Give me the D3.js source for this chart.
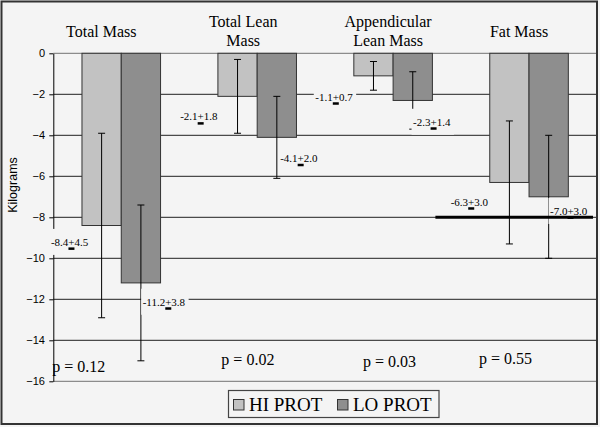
<!DOCTYPE html>
<html>
<head>
<meta charset="utf-8">
<script src="https://cdn.jsdelivr.net/npm/d3@7"></script>
<style>
  body { margin: 0; background: #f4f4f4; }
  svg { display: block; }
</style>
</head>
<body>
<div id="chart"></div>
<script>
// chart values
let categories = ["Total Mass", "Total Lean Mass", "Appendicular Lean Mass", "Fat Mass"];
let titleLines = [["Total Mass"], ["Total Lean", "Mass"], ["Appendicular", "Lean Mass"], ["Fat Mass"]];
let series = ["HI PROT", "LO PROT"];
let hiMeans = [-8.4, -2.1, -1.1, -6.3];
let hiSD = [4.5, 1.8, 0.7, 3.0];
let loMeans = [-11.2, -4.1, -2.3, -7.0];
let loSD = [3.8, 2.0, 1.4, 3.0];
let pValues = ["p = 0.12", "p = 0.02", "p = 0.03", "p = 0.55"];
let yTicks = [0, -2, -4, -6, -8, -10, -12, -14, -16];
let markerLine = -8;

// layout (pixels / offsets, not data)
let svgWidth = 600;
let svgHeight = 427;
let plot = { left: 53.3, right: 597, top: 53.3, bottom: 381.3 };
let titleDx = [-20, -14, -5, -10];
let hiLabelDx = [-32, -38.7, -39.5, -40];
let hiLabelY = [-9.2, -3.09, -2.12, -7.24];
let loLabelDx = [23, 22, 19, 20];
let loLabelY = [-12.12, -5.12, -3.34, -7.69];
let pDx = [-42.5, -9.3, -3.5, -23.6];
let pY = [-15.53, -15.2, -15.29, -15.16];
let colors = { "HI PROT": "#c2c2c2", "LO PROT": "#8e8e8e" };
let serif = "'Liberation Serif', 'Times New Roman', serif";
let sans = "'Liberation Sans', Arial, sans-serif";

// build rows
let rows = [];
categories.forEach(function(c, i) {
    rows.push({ cat: c, s: "HI PROT", mean: hiMeans[i], sd: hiSD[i], dx: hiLabelDx[i], ly: hiLabelY[i] });
    rows.push({ cat: c, s: "LO PROT", mean: loMeans[i], sd: loSD[i], dx: loLabelDx[i], ly: loLabelY[i] });
});

let svg = d3.select("#chart")
    .append("svg")
    .attr("width", svgWidth)
    .attr("height", svgHeight);

svg.append("rect")
    .attr("width", svgWidth)
    .attr("height", svgHeight)
    .attr("fill", "#f4f4f4");

// scales
let x0 = d3.scaleBand()
    .domain(categories)
    .range([plot.left, plot.right]);

let x1 = d3.scaleBand()
    .domain(series)
    .range([0, x0.bandwidth()])
    .paddingOuter(0.73);

let y = d3.scaleLinear()
    .domain([0, -16])
    .range([plot.top, plot.bottom]);

let groupCenter = c => x0(c) + x0.bandwidth() / 2;
let barCenter = d => x0(d.cat) + x1(d.s) + x1.bandwidth() / 2;

// gridlines
svg.append("g")
    .selectAll("line")
    .data(yTicks)
    .enter()
    .append("line")
    .attr("x1", plot.left)
    .attr("x2", plot.right)
    .attr("y1", d => y(d))
    .attr("y2", d => y(d))
    .attr("stroke", d => (d === 0 || d === -16) ? "#8c8c8c" : "#4a4a4a")
    .attr("stroke-width", 1.2);

// y axis
let yAxis = d3.axisLeft(y)
    .tickValues(yTicks)
    .tickSize(4)
    .tickSizeOuter(0)
    .tickPadding(4.3);

let axisG = svg.append("g")
    .attr("transform", `translate(${plot.left}, 0)`)
    .call(yAxis);

axisG.selectAll("text")
    .attr("font-family", sans)
    .attr("font-size", "11px")
    .attr("fill", "#000");
axisG.selectAll("line, path").attr("stroke", "#000");

// bars
svg.append("g")
    .selectAll("rect")
    .data(rows)
    .enter()
    .append("rect")
    .attr("x", d => x0(d.cat) + x1(d.s))
    .attr("y", y(0))
    .attr("width", x1.bandwidth())
    .attr("height", d => y(d.mean) - y(0))
    .attr("fill", d => colors[d.s])
    .attr("stroke", "#333")
    .attr("stroke-width", 1);

// error bars
let errG = svg.append("g").attr("stroke", "#000").attr("stroke-width", 1);
rows.forEach(function(d) {
    let cx = barCenter(d);
    let top = y(d.mean + d.sd);
    let bot = y(d.mean - d.sd);
    errG.append("line").attr("x1", cx).attr("x2", cx).attr("y1", top).attr("y2", bot);
    errG.append("line").attr("x1", cx - 3.5).attr("x2", cx + 3.5).attr("y1", top).attr("y2", top);
    errG.append("line").attr("x1", cx - 3.5).attr("x2", cx + 3.5).attr("y1", bot).attr("y2", bot);
});

// value labels with opaque boxes
let labG = svg.append("g");
rows.forEach(function(d) {
    let cx = barCenter(d) + d.dx;
    let cy = y(d.ly);
    let str = `${d.mean.toFixed(1)}+${d.sd.toFixed(1)}`;
    let box = labG.append("rect").attr("fill", "#f4f4f4");
    let t = labG.append("text")
        .attr("x", cx)
        .attr("y", cy + 3.8)
        .attr("text-anchor", "middle")
        .attr("font-family", serif)
        .attr("font-size", "11px")
        .attr("fill", "#000")
        .text(str);
    let bb = t.node().getBBox();
    box.attr("x", bb.x - 1.5)
        .attr("y", cy - 13)
        .attr("width", bb.width + 4.5)
        .attr("height", 26);
    let ext = t.node().getExtentOfChar(str.indexOf("+"));
    labG.append("rect")
        .attr("x", ext.x + ext.width / 2 - 3)
        .attr("y", cy + 5.5)
        .attr("width", 6)
        .attr("height", 2.5)
        .attr("fill", "#000");
});

// thick marker line
svg.append("line")
    .attr("x1", x0(categories[2]) + x1("LO PROT") + x1.bandwidth() + 3)
    .attr("x2", plot.right - 4)
    .attr("y1", y(markerLine))
    .attr("y2", y(markerLine))
    .attr("stroke", "#000")
    .attr("stroke-width", 3);

// category titles
titleLines.forEach(function(lines, i) {
    let tx = groupCenter(categories[i]) + titleDx[i];
    let base = lines.length === 1 ? [37] : [26.7, 45.7];
    lines.forEach(function(l, j) {
        svg.append("text")
            .attr("x", tx)
            .attr("y", base[j])
            .attr("text-anchor", "middle")
            .attr("font-family", serif)
            .attr("font-size", "16px")
            .attr("fill", "#000")
            .text(l);
    });
});

// p values
svg.append("g")
    .selectAll("text")
    .data(pValues)
    .enter()
    .append("text")
    .attr("x", (d, i) => groupCenter(categories[i]) + pDx[i])
    .attr("y", (d, i) => y(pY[i]))
    .attr("text-anchor", "middle")
    .attr("font-family", serif)
    .attr("font-size", "16px")
    .attr("fill", "#000")
    .text(d => d);

// y axis title
svg.append("text")
    .attr("transform", "translate(17, 185) rotate(-90)")
    .attr("text-anchor", "middle")
    .attr("font-family", sans)
    .attr("font-size", "12.5px")
    .attr("fill", "#000")
    .text("Kilograms");

// legend
let legend = svg.append("g");
legend.append("rect")
    .attr("x", 228.5)
    .attr("y", 390.5)
    .attr("width", 210.5)
    .attr("height", 27)
    .attr("fill", "#f4f4f4")
    .attr("stroke", "#444")
    .attr("stroke-width", 1.2);
let legX = [233.5, 337.5];
series.forEach(function(s, i) {
    legend.append("rect")
        .attr("x", legX[i])
        .attr("y", 399.5)
        .attr("width", 10.5)
        .attr("height", 10.5)
        .attr("fill", colors[s])
        .attr("stroke", "#333")
        .attr("stroke-width", 1);
    legend.append("text")
        .attr("x", legX[i] + 15.5)
        .attr("y", 411)
        .attr("font-family", serif)
        .attr("font-size", "19px")
        .attr("fill", "#000")
        .text(s);
});

// outer border
svg.append("rect")
    .attr("x", 1.5)
    .attr("y", 1.5)
    .attr("width", 595.5)
    .attr("height", 422.5)
    .attr("fill", "none")
    .attr("stroke", "#333")
    .attr("stroke-width", 2);
</script>
</body>
</html>
